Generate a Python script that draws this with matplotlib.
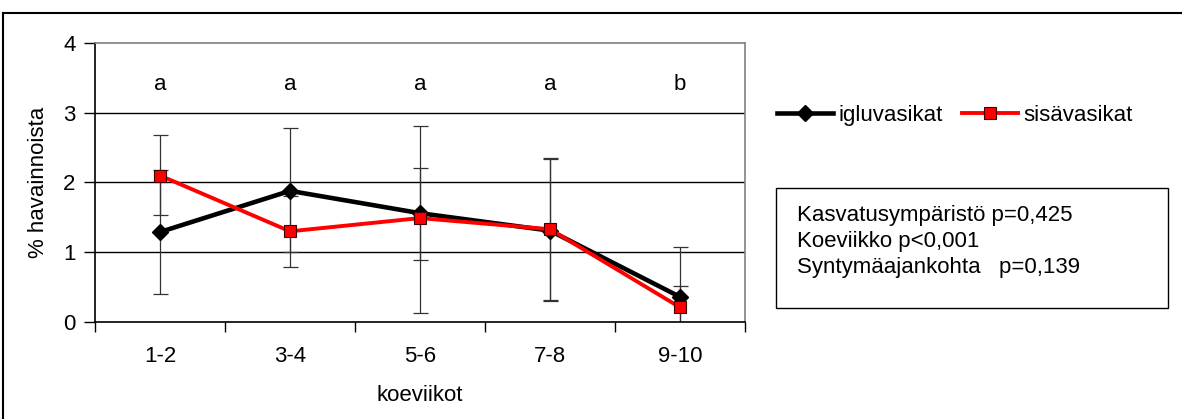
import numpy as np
import matplotlib
matplotlib.use('Agg')
import matplotlib.pyplot as plt
from matplotlib.lines import Line2D
from matplotlib.patches import Rectangle

plt.rcParams['font.family'] = ['Liberation Sans', 'DejaVu Sans']

# koeviikot ja ryhmien keskiarvot
viikot = ['1-2', '3-4', '5-6', '7-8', '9-10']
iglu = [1.29, 1.88, 1.56, 1.31, 0.36]
sisa = [2.10, 1.30, 1.49, 1.33, 0.21]
# virhepalkkien ala- ja ylärajat
iglu_ala = [0.40, 1.00, 0.13, 0.30, -0.36]
iglu_yla = [2.18, 2.78, 2.81, 2.33, 1.08]
sisa_ala = [1.53, 0.79, 0.89, 0.32, -0.10]
sisa_yla = [2.68, 1.80, 2.21, 2.35, 0.51]
kirjaimet = ['a', 'a', 'a', 'a', 'b']
kirjain_y = 3.41
tilastot = ['Kasvatusympäristö p=0,425', 'Koeviikko p<0,001', 'Syntymäajankohta   p=0,139']

W, H = 1182, 419
fs = 16
fig = plt.figure(figsize=(W / 100, H / 100), dpi=100)
ax = fig.add_axes([95 / W, (H - 322) / H, 650 / W, 279 / H])

x = np.arange(len(viikot))
iglu = np.array(iglu)
sisa = np.array(sisa)

# virhepalkit
for y, ala, yla in [(iglu, iglu_ala, iglu_yla), (sisa, sisa_ala, sisa_yla)]:
    err = [y - np.array(ala), np.array(yla) - y]
    ax.errorbar(x, y, yerr=err, fmt='none', ecolor='#333333', elinewidth=0.9,
                capsize=5.4, capthick=0.9, zorder=2)

l1, = ax.plot(x, iglu, color='black', lw=3.3, marker='D', markersize=8,
              markerfacecolor='black', markeredgecolor='black', label='igluvasikat', zorder=3)
l2, = ax.plot(x, sisa, color='#ff0000', lw=2.8, marker='s', markersize=8,
              markerfacecolor='#ff0000', markeredgecolor='#400000', markeredgewidth=0.8,
              label='sisävasikat', zorder=4)

for xi, k in zip(x, kirjaimet):
    ax.text(xi, kirjain_y, k, ha='center', va='center', fontsize=fs)

ax.set_xlim(-0.5, len(viikot) - 0.5)
ax.set_ylim(0, 4)
ax.set_yticks([0, 1, 2, 3, 4])
for g in [1, 2, 3]:
    ax.axhline(g, color='black', lw=1, zorder=1)

ax.set_xticks(x)
ax.set_xticklabels(viikot, fontsize=fs)
ax.set_xticks(np.arange(-0.5, len(viikot)), minor=True)
ax.tick_params(axis='x', which='major', length=0, pad=17)
ax.tick_params(axis='x', which='minor', length=7, width=1, direction='out')
ax.tick_params(axis='y', length=8, width=1, direction='out', pad=6, labelsize=fs)
ax.set_xlabel('koeviikot', fontsize=fs, labelpad=13)
ax.set_ylabel('% havainnoista', fontsize=fs, labelpad=10)

for s in ['left', 'bottom']:
    ax.spines[s].set_color('black')
    ax.spines[s].set_linewidth(1.2)
for s in ['top', 'right']:
    ax.spines[s].set_color('#808080')
    ax.spines[s].set_linewidth(1.2)

fig.legend(handles=[l1, l2], loc='center left',
           bbox_to_anchor=(777 / W, 1 - 115 / H), ncol=2, frameon=False,
           fontsize=fs, handlelength=2.5, handletextpad=0.25, columnspacing=0.9,
           borderpad=0, borderaxespad=0)

# tilastolaatikko
fig.patches.append(Rectangle((776 / W, 1 - 308 / H), (1168 - 776) / W, 120 / H,
                             transform=fig.transFigure, fill=False,
                             edgecolor='black', lw=1))
for i, t in enumerate(tilastot):
    fig.text(797 / W, 1 - (215 + 26.5 * i) / H, t, ha='left', va='center', fontsize=fs)

# kuvan reunat
fig.lines.append(Line2D([3 / W, 1], [1 - 13 / H, 1 - 13 / H], transform=fig.transFigure,
                        color='black', lw=1.5))
fig.lines.append(Line2D([3 / W, 3 / W], [1 - 13 / H, 0], transform=fig.transFigure,
                        color='black', lw=1.5))

fig.savefig('out.png', dpi=100)
